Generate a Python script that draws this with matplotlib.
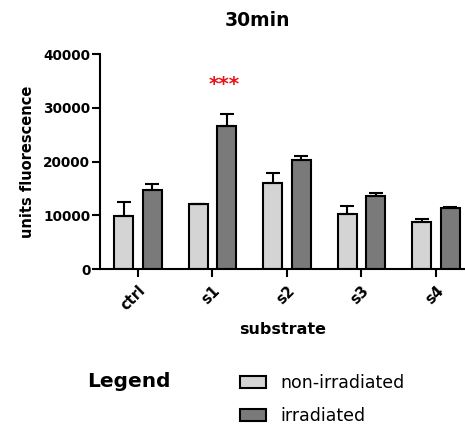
import numpy as np
import matplotlib
matplotlib.use("Agg")
import matplotlib.pyplot as plt
from matplotlib.patches import Patch

# values (units fluorescence, 30 min)
groups = ["ctrl", "s1", "s2", "s3", "s4"]
non_irr = [9900, 12200, 16100, 10300, 8800]
non_irr_err = [2500, 0, 1700, 1400, 450]
irr = [14700, 26700, 20300, 13600, 11300]
irr_err = [1100, 2200, 800, 500, 250]
series_names = ["non-irradiated", "irradiated"]

plt.rcParams["font.family"] = ["DejaVu Sans"]

fig = plt.figure(figsize=(4.65, 4.26), dpi=100)
ax = fig.add_axes([0.215, 0.3685, 0.785, 0.504])

x = np.arange(len(groups))
w = 0.255
off = 0.19
err_kw = dict(elinewidth=1.5, capsize=5, capthick=1.5, ecolor="black")
ax.bar(x - off, non_irr, w, color="#d4d4d4", edgecolor="black", linewidth=1.5,
       yerr=[np.zeros(len(groups)), non_irr_err], error_kw=err_kw, zorder=2)
ax.bar(x + off, irr, w, color="#7a7a7a", edgecolor="black", linewidth=1.5,
       yerr=[np.zeros(len(groups)), irr_err], error_kw=err_kw, zorder=2)

# significance mark over s1 irradiated
ax.text(1 + off - 0.03, 34300, "***", color="#e8141c", fontsize=14.5,
        fontweight="bold", ha="center", va="center")

ax.set_xlim(-0.51, 4.39)
ax.set_ylim(0, 40000)
ax.set_yticks([0, 10000, 20000, 30000, 40000])
ax.set_xticks(x)
ax.set_xticklabels(groups, rotation=45, ha="right", rotation_mode="anchor",
                   fontsize=10.5, fontweight="bold")
for lab in ax.get_yticklabels():
    lab.set_fontweight("bold")
    lab.set_fontsize(9.8)
ax.tick_params(axis="both", width=1.5, length=6, pad=1)
ax.tick_params(axis="x", pad=4)

for s in ["top", "right"]:
    ax.spines[s].set_visible(False)
for s in ["left", "bottom"]:
    ax.spines[s].set_linewidth(1.5)

ax.set_ylabel("units fluorescence", fontsize=10.5, fontweight="bold", labelpad=6)
ax.set_xlabel("substrate", fontsize=11.5, fontweight="bold", labelpad=6)

fig.text(0.553, 0.951, "30min", fontsize=13.5, fontweight="bold",
         ha="center", va="center")

fig.text(0.187, 0.105, "Legend", fontsize=14.5, fontweight="bold",
         ha="left", va="center")
handles = [Patch(facecolor="#d4d4d4", edgecolor="black", linewidth=1.5),
           Patch(facecolor="#7a7a7a", edgecolor="black", linewidth=1.5)]
fig.legend(handles, series_names, loc="upper left", bbox_to_anchor=(0.517, 0.121),
           frameon=False, fontsize=12.5, handlelength=1.5, handleheight=0.7,
           handletextpad=0.8, labelspacing=0.85, borderaxespad=0, borderpad=0)

fig.savefig("out.png", dpi=100)
